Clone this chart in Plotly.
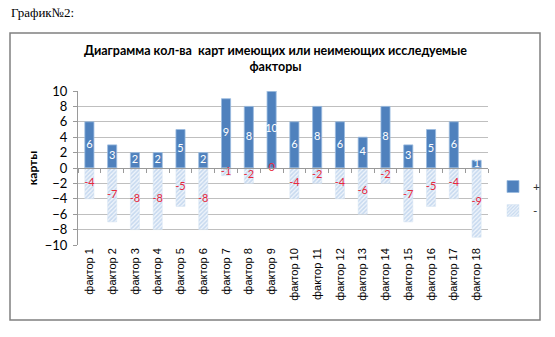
import plotly.graph_objects as go

categories = [f"фактор {i}" for i in range(1, 19)]
pos_vals = [6, 3, 2, 2, 5, 2, 9, 8, 10, 6, 8, 6, 4, 8, 3, 5, 6, 1]
neg_vals = [-4, -7, -8, -8, -5, -8, -1, -2, 0, -4, -2, -4, -6, -2, -7, -5, -4, -9]
series_names = ["+", "-"]
y_ticks = list(range(-10, 11, 2))

W, H = 555, 337
L, R, T, B = 78, 67, 91, 92
pw, ph = W - L - R, H - T - B

def px_x(x):
    return (x - L) / pw

def px_y(y):
    return (H - B - y) / ph

fig = go.Figure()
fig.add_trace(go.Bar(
    x=categories, y=pos_vals, name=series_names[0],
    marker=dict(color="#4F81BD", line=dict(color="#9BBBE0", width=0.8)),
    legendgroup="a",
))
fig.add_trace(go.Bar(
    x=categories, y=neg_vals, name=series_names[1],
    marker=dict(color="white", line=dict(color="#D6E4F3", width=0.5),
                pattern=dict(shape="/", fgcolor="#9DBEE4", bgcolor="#F0F5FB", size=3, solidity=0.55)),
    legendgroup="b",
))
fig.add_trace(go.Scatter(
    x=categories, y=[v / 2 for v in pos_vals], mode="text",
    text=[str(v) for v in pos_vals], textfont=dict(family="Lato", size=11, color="white"),
    showlegend=False, hoverinfo="skip",
))
fig.add_trace(go.Scatter(
    x=categories, y=[v / 2 for v in neg_vals], mode="text",
    text=[str(v) for v in neg_vals], textfont=dict(family="Lato", size=11, color="#E8283C"),
    showlegend=False, hoverinfo="skip",
))

fig.update_layout(
    width=W, height=H,
    margin=dict(l=L, r=R, t=T, b=B, autoexpand=False),
    paper_bgcolor="white", plot_bgcolor="white",
    barmode="relative", bargap=0.6,
    showlegend=True,
    legend=dict(x=px_x(493), y=px_y(172), xanchor="left", yanchor="top",
                font=dict(family="Lato", size=12, color="#333333"),
                tracegroupgap=5, itemwidth=30, bgcolor="rgba(0,0,0,0)"),
    xaxis=dict(type="category", showgrid=False, showline=False, ticks="",
               tickangle=-90, tickfont=dict(family="Liberation Sans", size=11, color="black"),
               range=[-0.5, 17.5]),
    xaxis2=dict(overlaying="x", anchor="free", position=0.5, range=[-0.5, 17.5],
                showgrid=False, showline=True, linecolor="#9A9A9A", linewidth=1,
                ticks="outside", ticklen=4, tickcolor="#9A9A9A",
                tickvals=[i - 0.5 for i in range(19)], showticklabels=False, zeroline=False),
    yaxis=dict(range=[-10, 10], tickvals=y_ticks, showgrid=True, gridcolor="#BFBFBF",
               gridwidth=1, zeroline=False, showline=True, linecolor="#9A9A9A",
               ticks="outside", ticklen=4, tickcolor="#9A9A9A", ticklabelstandoff=3,
               tickfont=dict(family="Lato", size=13, color="black"),
               title=dict(text="<b>карты</b>", font=dict(family="Lato", size=12, color="black"),
                          standoff=4)),
    shapes=[dict(type="rect", xref="paper", yref="paper",
                 x0=px_x(10), x1=px_x(540), y0=px_y(320), y1=px_y(33),
                 line=dict(color="#808080", width=1.5), fillcolor="rgba(0,0,0,0)", layer="below")],
    annotations=[
        dict(text="График№2:", xref="paper", yref="paper", x=px_x(9), y=px_y(13),
             xanchor="left", yanchor="middle", showarrow=False,
             font=dict(family="Liberation Serif", size=13, color="black")),
        dict(text="<b>Диаграмма кол-ва  карт имеющих или неимеющих исследуемые<br>факторы</b>",
             xref="paper", yref="paper", x=px_x(275), y=px_y(58),
             xanchor="center", yanchor="middle", showarrow=False,
             font=dict(family="Lato", size=12.5, color="black")),
    ],
)
fig.add_trace(go.Scatter(x=[0], y=[0], xaxis="x2", mode="markers", marker=dict(opacity=0),
                         showlegend=False, hoverinfo="skip"))

fig.write_html("out.html")
